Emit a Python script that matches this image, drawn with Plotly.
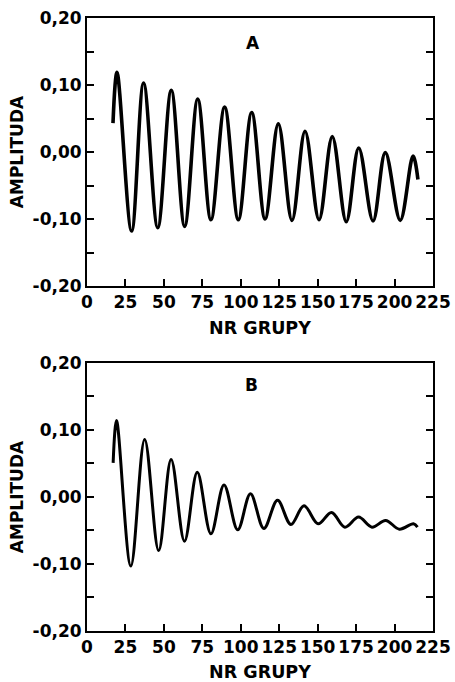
import plotly.graph_objects as go

# Panel A: extrema (NR GRUPY, AMPLITUDA)
a_x = [16.9, 19.5, 29.0, 36.8, 46.0, 54.8, 63.5, 72.0, 80.6, 89.5, 98.4, 107.1,
       115.8, 124.4, 133.3, 141.8, 150.9, 159.5, 168.6, 176.7, 186.0, 194.0,
       203.7, 212.0, 215.2]
a_y = [0.043, 0.119, -0.118, 0.103, -0.113, 0.092, -0.111, 0.079, -0.101, 0.067,
       -0.101, 0.059, -0.100, 0.042, -0.102, 0.031, -0.101, 0.023, -0.104, 0.006,
       -0.103, -0.001, -0.102, -0.006, -0.041]

# Panel B
b_x = [17.0, 19.2, 28.5, 37.5, 46.6, 54.7, 63.4, 71.7, 80.6, 89.1, 98.0, 106.3,
       115.0, 123.9, 132.6, 141.1, 150.3, 159.0, 167.7, 176.6, 185.3, 194.2,
       203.1, 212.3, 214.9]
b_y = [0.051, 0.114, -0.103, 0.086, -0.080, 0.056, -0.066, 0.037, -0.055, 0.018,
       -0.049, 0.005, -0.047, -0.005, -0.041, -0.013, -0.040, -0.023, -0.045,
       -0.030, -0.045, -0.035, -0.048, -0.040, -0.045]

x_ticks = [0, 25, 50, 75, 100, 125, 150, 175, 200, 225]
y_tickvals = [-0.20, -0.15, -0.10, -0.05, 0.00, 0.05, 0.10, 0.15, 0.20]
y_ticktext = ["-0,20", "", "-0,10", "", "0,00", "", "0,10", "", "0,20"]
panel_labels = ["A", "B"]

FONT = dict(family="DejaVu Sans, sans-serif", size=17, color="black", weight="bold")
TFONT = dict(FONT, size=17.5)

fig = go.Figure()
fig.add_trace(go.Scatter(x=a_x, y=a_y, mode="lines", line=dict(color="black", width=3.6, shape="spline", smoothing=1.0),
                         xaxis="x", yaxis="y", showlegend=False, hoverinfo="skip"))
fig.add_trace(go.Scatter(x=b_x, y=b_y, mode="lines", line=dict(color="black", width=3.0, shape="spline", smoothing=1.0),
                         xaxis="x2", yaxis="y2", showlegend=False, hoverinfo="skip"))

def xax(anchor):
    return dict(range=[0, 225], tickvals=x_ticks, ticktext=[str(v) for v in x_ticks],
                ticks="inside", ticklen=7, tickwidth=2, tickcolor="black",
                showline=True, linecolor="black", linewidth=2, mirror=True,
                showgrid=False, zeroline=False, tickfont=FONT, automargin=False,
                title=dict(text="NR GRUPY", font=TFONT, standoff=10), anchor=anchor)

def yax(domain, anchor):
    return dict(range=[-0.20, 0.20], tickvals=y_tickvals, ticktext=y_ticktext,
                ticks="inside", ticklen=7, tickwidth=2, tickcolor="black",
                showline=True, linecolor="black", linewidth=2, mirror="ticks",
                showgrid=False, zeroline=False, tickfont=FONT, automargin=False,
                title=dict(text="AMPLITUDA", font=FONT, standoff=5),
                domain=domain, anchor=anchor)

fig.update_layout(
    width=455, height=682,
    margin=dict(l=87, r=22, t=18, b=51),
    paper_bgcolor="white", plot_bgcolor="white",
    xaxis=xax("y"), yaxis=yax([0.5628, 1.0], "x"),
    xaxis2=xax("y2"), yaxis2=yax([0.0, 0.4372], "x2"),
    font=FONT,
)
fig.add_annotation(x=108, y=0.163, xref="x", yref="y", text=panel_labels[0], showarrow=False, font=FONT)
fig.add_annotation(x=107, y=0.167, xref="x2", yref="y2", text=panel_labels[1], showarrow=False, font=FONT)

fig.write_html("out.html", config={"displayModeBar": False, "staticPlot": True})

# remove the browser's default page margin so the figure sits at (0, 0)
with open("out.html", "r", encoding="utf-8") as f:
    html = f.read()
html = html.replace("<head>", "<head><style>html,body{margin:0;padding:0;overflow:hidden;}</style>", 1)
with open("out.html", "w", encoding="utf-8") as f:
    f.write(html)
